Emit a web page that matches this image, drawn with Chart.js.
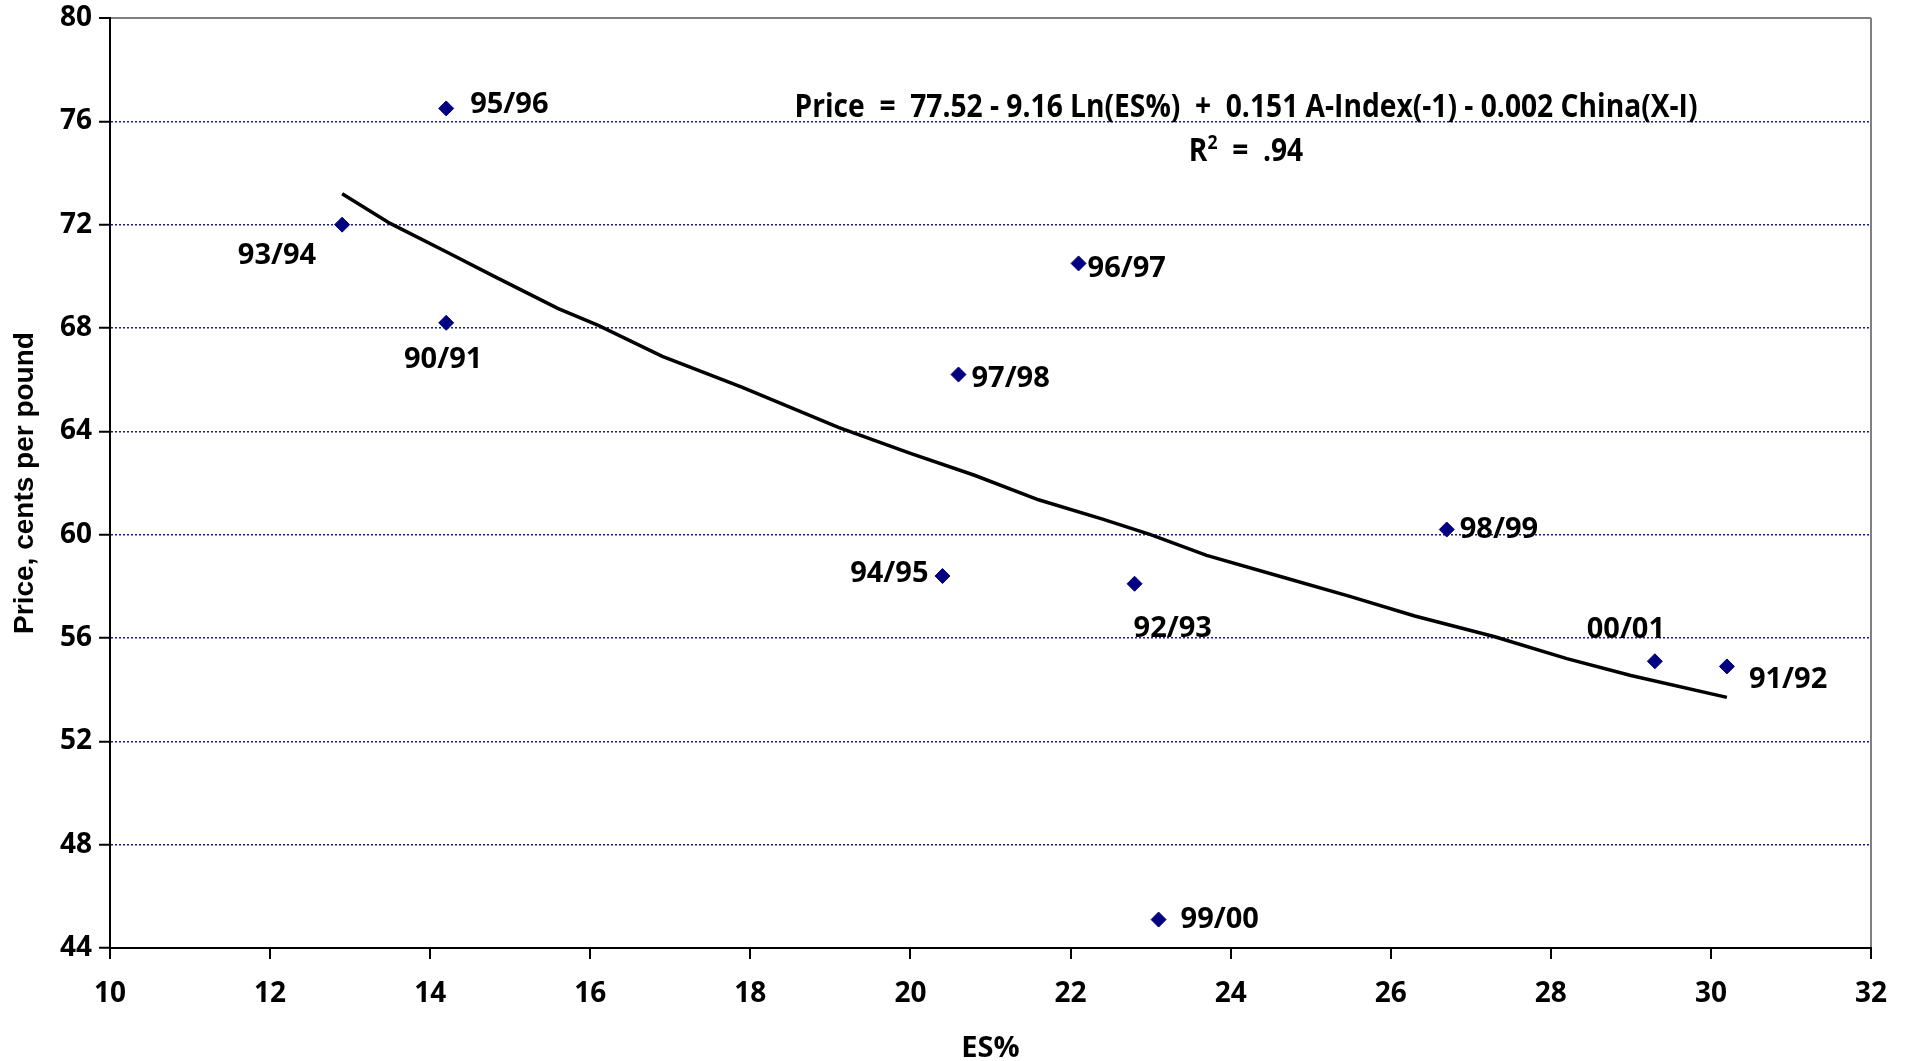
<!DOCTYPE html>
<html>
<head>
<meta charset="utf-8">
<title>Price vs ES%</title>
<script src="https://cdn.jsdelivr.net/npm/chart.js@4.4.1/dist/chart.umd.min.js"></script>
<style>
  html, body { margin:0; padding:0; background:#fff; }
  #wrap { width:1913px; height:1061px; }
</style>
</head>
<body>
<div id="wrap"><canvas id="chart" width="1913" height="1061"></canvas></div>
<script>
// season points: ending stocks % (x) vs price, cents per pound (y)
const seasons = ['90/91','91/92','92/93','93/94','94/95','95/96','96/97','97/98','98/99','99/00','00/01'];
const esPct   = [14.2, 30.2, 22.8, 12.9, 20.4, 14.2, 22.1, 20.6, 26.7, 23.1, 29.3];
const price   = [68.2, 54.9, 58.1, 72.0, 58.4, 76.5, 70.5, 66.2, 60.2, 45.1, 55.1];

// fitted curve
const fitX = [12.9, 13.5, 14.2, 14.8, 15.6, 16.1, 16.9, 17.9, 19.1, 20.0, 20.8, 21.6, 22.4, 23.0, 23.7, 24.6, 25.5, 26.3, 27.3, 28.2, 29.0, 30.2];
const fitY = [73.2, 72.05, 70.95, 70.0, 68.75, 68.1, 66.9, 65.7, 64.15, 63.15, 62.3, 61.35, 60.6, 60.0, 59.2, 58.4, 57.6, 56.85, 56.05, 55.2, 54.55, 53.7];

const xTicks = [10, 12, 14, 16, 18, 20, 22, 24, 26, 28, 30, 32];
const yTicks = [44, 48, 52, 56, 60, 64, 68, 72, 76, 80];

const equation = 'Price  =  77.52 - 9.16 Ln(ES%)  +  0.151 A-Index(-1) - 0.002 China(X-I)';
const rSquared = '  =  .94';

// where each season label sits next to its marker
const labelPos = {
  '90/91': { dx: -3,  dy: 35,  align: 'center' },
  '91/92': { dx: 22,  dy: 12,  align: 'left' },
  '92/93': { dx: -1,  dy: 43,  align: 'left' },
  '93/94': { dx: -26, dy: 29,  align: 'right' },
  '94/95': { dx: -14, dy: -4,  align: 'right' },
  '95/96': { dx: 24,  dy: -5,  align: 'left' },
  '96/97': { dx: 9,   dy: 4,   align: 'left' },
  '97/98': { dx: 13,  dy: 2,   align: 'left' },
  '98/99': { dx: 13,  dy: -2,  align: 'left' },
  '99/00': { dx: 22,  dy: -2,  align: 'left' },
  '00/01': { dx: -29, dy: -33, align: 'center' }
};

const NAVY = '#000080';
Chart.defaults.font.family = "'Open Sans', sans-serif";

const pointLabels = {
  id: 'pointLabels',
  afterDatasetsDraw(chart) {
    const ctx = chart.ctx;
    const meta = chart.getDatasetMeta(0);
    ctx.save();
    ctx.font = "bold 29px 'Open Sans'";
    ctx.fillStyle = '#000';
    ctx.textBaseline = 'alphabetic';
    meta.data.forEach((el, i) => {
      const p = labelPos[seasons[i]];
      ctx.textAlign = p.align;
      ctx.fillText(seasons[i], el.x + p.dx, el.y + p.dy + 10);
    });
    ctx.restore();
  }
};

const eqnText = {
  id: 'eqnText',
  afterDraw(chart) {
    const ctx = chart.ctx;
    const cx = 1246;
    ctx.save();
    ctx.fillStyle = '#000';
    ctx.textBaseline = 'alphabetic';
    ctx.font = "bold 32px 'Open Sans'";
    const w = ctx.measureText(equation).width;
    const sx = 903 / w;
    ctx.save();
    ctx.translate(cx, 117);
    ctx.scale(sx, 1);
    ctx.textAlign = 'center';
    ctx.fillText(equation, 0, 0);
    ctx.restore();

    // R² line
    const wR = ctx.measureText('R').width;
    const wRest = ctx.measureText(rSquared).width;
    ctx.font = "bold 20px 'Open Sans'";
    const w2 = ctx.measureText('2').width;
    const total = (wR + w2 + wRest) * sx;
    ctx.save();
    ctx.translate(cx - total / 2, 161);
    ctx.scale(sx, 1);
    ctx.textAlign = 'left';
    ctx.font = "bold 32px 'Open Sans'";
    ctx.fillText('R', 0, 0);
    ctx.font = "bold 20px 'Open Sans'";
    ctx.fillText('2', wR, -12);
    ctx.font = "bold 32px 'Open Sans'";
    ctx.fillText(rSquared, wR + w2, 0);
    ctx.restore();
    ctx.restore();
  }
};

new Chart(document.getElementById('chart'), {
  type: 'scatter',
  data: {
    datasets: [
      {
        label: 'Seasons',
        data: esPct.map((x, i) => ({ x, y: price[i] })),
        pointStyle: 'rectRot',
        pointRadius: 7.5,
        backgroundColor: NAVY,
        borderColor: NAVY,
        borderWidth: 1,
        showLine: false
      },
      {
        label: 'Fit',
        data: fitX.map((x, i) => ({ x, y: fitY[i] })),
        showLine: true,
        pointRadius: 0,
        borderColor: '#000',
        borderWidth: 3.5,
        tension: 0
      }
    ]
  },
  options: {
    responsive: false,
    animation: false,
    devicePixelRatio: 1,
    layout: { padding: { top: 18, right: 42, left: 0, bottom: 0 } },
    plugins: { legend: { display: false }, tooltip: { enabled: false } },
    scales: {
      x: {
        type: 'linear', min: 10, max: 32,
        afterBuildTicks: s => { s.ticks = xTicks.map(v => ({ value: v })); },
        afterFit: s => { s.height = 113; s.paddingLeft = 0; s.paddingRight = 0; },
        ticks: { font: { size: 28, weight: 'bold' }, color: '#000', padding: 18, maxRotation: 0 },
        grid: {
          color: c => (c.tick && c.tick.value === 32) ? '#808080' : 'rgba(0,0,0,0)',
          lineWidth: 2, tickColor: '#000', tickLength: 11, tickWidth: 2
        },
        border: { color: '#000', width: 2 },
        title: { display: true, text: 'ES%', color: '#000',
                 font: { size: 29, weight: 'bold', lineHeight: 0.85 }, padding: { top: 0, bottom: 0 } }
      },
      y: {
        type: 'linear', min: 44, max: 80,
        afterBuildTicks: s => { s.ticks = yTicks.map(v => ({ value: v })); },
        afterFit: s => { s.width = 110; s.paddingTop = 0; s.paddingBottom = 0; },
        ticks: { font: { size: 28, weight: 'bold' }, color: '#000', padding: 7 },
        grid: {
          color: c => {
            const v = c.tick && c.tick.value;
            if (v === 80) return '#808080';
            if (v === 44) return 'rgba(0,0,0,0)';
            return '#1a1a90';
          },
          lineWidth: c => (c.tick && c.tick.value === 80) ? 2 : 1.5,
          tickColor: '#000', tickLength: 11, tickWidth: 2
        },
        border: { color: '#000', width: 2,
                  dash: c => (c.tick && c.tick.value === 80) ? [] : [2, 2] },
        title: { display: true, text: 'Price, cents per pound', color: '#000',
                 font: { family: "'Liberation Sans', Arial, sans-serif", size: 28, weight: 'bold' },
                 padding: { top: 8, bottom: 0 } }
      }
    }
  },
  plugins: [pointLabels, eqnText]
});
</script>
</body>
</html>
